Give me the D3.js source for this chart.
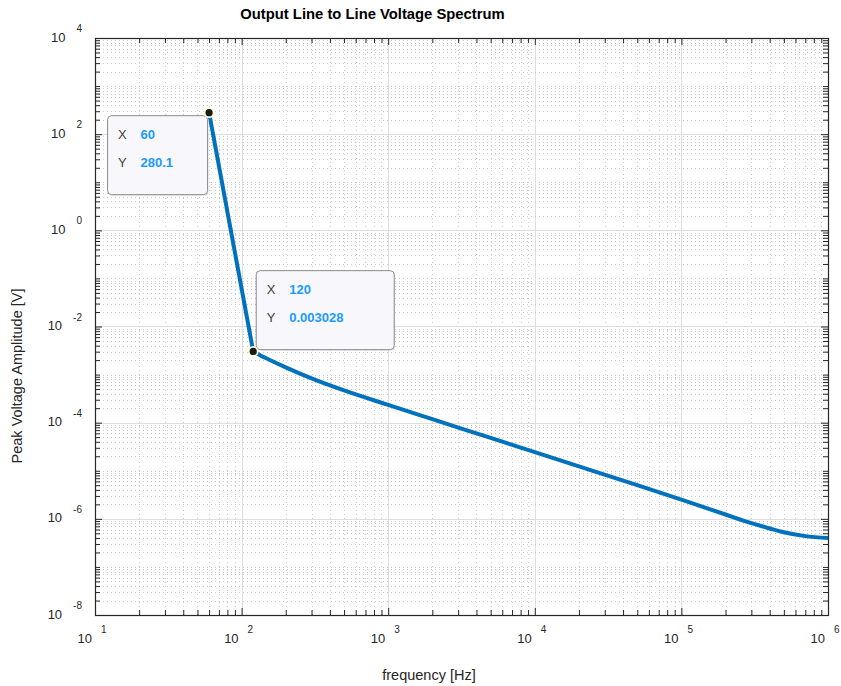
<!DOCTYPE html>
<html>
<head>
<meta charset="utf-8">
<script src="https://cdn.jsdelivr.net/npm/d3@7"></script>
<style>
  html, body { margin: 0; padding: 0; background: #fff; }
  svg { display: block; font-family: "Liberation Sans", Arial, Helvetica, sans-serif; }
</style>
</head>
<body>
<svg id="chart" width="841" height="686"></svg>
<script>
// Spectrum samples: frequency [Hz] and peak amplitude [V]
const freqHz = [60, 120, 145, 200, 300, 500, 1000, 2000, 5000, 10000, 20000, 50000, 100000, 200000, 300000, 400000, 500000, 700000, 1000000];
const amplitudeV = [280.1, 0.003028, 0.002239, 0.001413, 0.000832, 0.000468, 0.000234, 0.0001183, 0.0000481, 0.0000243, 0.0000123, 0.00000501, 0.00000251, 0.00000123, 0.000000813, 0.000000631, 0.000000525, 0.000000437, 0.000000398];

// Axis decades and labelled exponents
const xDomain = [1e1, 1e6];
const yDomain = [1e-8, 1e4];
const xTickExp = [1, 2, 3, 4, 5, 6];
const yTickExp = [4, 2, 0, -2, -4, -6, -8];

// Data tips (indices into the sample arrays)
const tipIndex = [0, 1];
const tipXLabel = ["60", "120"];
const tipYLabel = ["280.1", "0.003028"];

const titleText = "Output Line to Line Voltage Spectrum";
const xLabelText = "frequency [Hz]";
const yLabelText = "Peak Voltage Amplitude [V]";

const L = 95, R = 828, T = 38, B = 615;
const svg = d3.select("#chart");

const x = d3.scaleLog().domain(xDomain).range([L, R]);
const y = d3.scaleLog().domain(yDomain).range([B, T]);

// minor positions 1..9 x 10^k within each domain
function minorValues(lo, hi) {
  const out = [];
  for (let k = Math.round(Math.log10(lo)); k < Math.round(Math.log10(hi)); k++) {
    for (let m = 1; m <= 9; m++) out.push(m * Math.pow(10, k));
  }
  out.push(hi);
  return out;
}
const xMajor = xTickExp.map(e => Math.pow(10, e));
const yMajor = yTickExp.map(e => Math.pow(10, e));
const xMinor = minorValues(xDomain[0], xDomain[1]).filter(v => !xMajor.some(m => Math.abs(m - v) / m < 1e-9));
const yMinor = minorValues(yDomain[0], yDomain[1]).filter(v => !yMajor.some(m => Math.abs(m - v) / m < 1e-9));

// Grid
const grid = svg.append("g");
grid.selectAll(".gxm").data(xMinor).join("line")
  .attr("x1", d => Math.round(x(d)) + 0.5).attr("x2", d => Math.round(x(d)) + 0.5)
  .attr("y1", T).attr("y2", B)
  .attr("stroke", "#cacaca").attr("stroke-width", 1).attr("stroke-dasharray", "1,3");
grid.selectAll(".gym").data(yMinor).join("line")
  .attr("y1", d => Math.round(y(d)) + 0.5).attr("y2", d => Math.round(y(d)) + 0.5)
  .attr("x1", L).attr("x2", R)
  .attr("stroke", "#cacaca").attr("stroke-width", 1).attr("stroke-dasharray", "1,3");
grid.selectAll(".gxM").data(xMajor).join("line")
  .attr("x1", d => Math.round(x(d)) + 0.5).attr("x2", d => Math.round(x(d)) + 0.5)
  .attr("y1", T).attr("y2", B)
  .attr("stroke", "#dedede").attr("stroke-width", 1);
grid.selectAll(".gyM").data(yMajor).join("line")
  .attr("y1", d => Math.round(y(d)) + 0.5).attr("y2", d => Math.round(y(d)) + 0.5)
  .attr("x1", L).attr("x2", R)
  .attr("stroke", "#dedede").attr("stroke-width", 1);

// Axes: inward ticks on all four sides
function styleAxis(g) {
  g.selectAll("text").remove();
  g.select(".domain").remove();
  g.selectAll("line").attr("stroke", "#262626");
}
svg.append("g").attr("transform", "translate(0," + B + ")").call(d3.axisBottom(x).tickValues(xMajor).tickSize(-7).tickFormat("")).call(styleAxis);
svg.append("g").attr("transform", "translate(0," + B + ")").call(d3.axisBottom(x).tickValues(xMinor).tickSize(-5).tickFormat("")).call(styleAxis);
svg.append("g").attr("transform", "translate(0," + T + ")").call(d3.axisTop(x).tickValues(xMajor).tickSize(-7).tickFormat("")).call(styleAxis);
svg.append("g").attr("transform", "translate(0," + T + ")").call(d3.axisTop(x).tickValues(xMinor).tickSize(-5).tickFormat("")).call(styleAxis);
svg.append("g").attr("transform", "translate(" + L + ",0)").call(d3.axisLeft(y).tickValues(yMajor).tickSize(-7).tickFormat("")).call(styleAxis);
svg.append("g").attr("transform", "translate(" + L + ",0)").call(d3.axisLeft(y).tickValues(yMinor).tickSize(-5).tickFormat("")).call(styleAxis);
svg.append("g").attr("transform", "translate(" + R + ",0)").call(d3.axisRight(y).tickValues(yMajor).tickSize(-7).tickFormat("")).call(styleAxis);
svg.append("g").attr("transform", "translate(" + R + ",0)").call(d3.axisRight(y).tickValues(yMinor).tickSize(-5).tickFormat("")).call(styleAxis);
svg.append("rect").attr("x", L + 0.5).attr("y", T + 0.5).attr("width", R - L).attr("height", B - T)
  .attr("fill", "none").attr("stroke", "#262626").attr("stroke-width", 1.2);

// Tick labels: 10 with raised exponent
const xl = svg.append("g").attr("fill", "#262626");
xTickExp.forEach(e => {
  const px = x(Math.pow(10, e));
  xl.append("text").attr("x", px - 3).attr("y", 643).attr("text-anchor", "end").attr("font-size", 13).text("10");
  xl.append("text").attr("x", px + 6).attr("y", 633).attr("text-anchor", "start").attr("font-size", 10).text(e);
});
const yl = svg.append("g").attr("fill", "#262626");
yTickExp.forEach(e => {
  const py = y(Math.pow(10, e));
  const t = yl.append("text").attr("x", 82).attr("y", py + 3.5).attr("text-anchor", "end").attr("font-size", 13);
  t.append("tspan").text("10");
  t.append("tspan").attr("dx", 11).attr("dy", -9.5).attr("font-size", 10).text(e);
});

// Title and axis labels
svg.append("text").attr("x", 372.5).attr("y", 19).attr("text-anchor", "middle")
  .attr("font-size", 14.8).attr("font-weight", "bold").attr("fill", "#000").text(titleText);
svg.append("text").attr("x", 429).attr("y", 680).attr("text-anchor", "middle")
  .attr("font-size", 14.5).attr("fill", "#262626").text(xLabelText);
svg.append("text").attr("transform", "translate(22,376) rotate(-90)").attr("text-anchor", "middle")
  .attr("font-size", 14.5).attr("fill", "#262626").text(yLabelText);

// Spectrum curve: straight drop from the fundamental, smooth tail afterwards
const pts = freqHz.map((f, i) => [f, amplitudeV[i]]);
const plot = svg.append("g");
plot.append("path").datum(pts.slice(0, 2))
  .attr("d", d3.line().x(d => x(d[0])).y(d => y(d[1])).curve(d3.curveLinear))
  .attr("fill", "none").attr("stroke", "#0072BD").attr("stroke-width", 4).attr("stroke-linecap", "butt");
plot.append("path").datum(pts.slice(1))
  .attr("d", d3.line().x(d => x(d[0])).y(d => y(d[1])).curve(d3.curveMonotoneX))
  .attr("fill", "none").attr("stroke", "#0072BD").attr("stroke-width", 4).attr("stroke-linejoin", "round");

// Data tips
const tipW = [100, 138], tipH = 79;
tipIndex.forEach((idx, k) => {
  const px = x(freqHz[idx]), py = y(amplitudeV[idx]);
  let bx, by;
  if (k === 0) { bx = px - 2 - tipW[k]; by = py + 2.5; }
  else { bx = px + 2.5; by = py - 2.3 - tipH; }
  const g = svg.append("g");
  g.append("rect").attr("x", bx + 1.5).attr("y", by + 1.5).attr("width", tipW[k]).attr("height", tipH)
    .attr("rx", 4).attr("fill", "#d8d8d8").attr("opacity", 0.6);
  g.append("rect").attr("x", bx + 0.5).attr("y", by + 0.5).attr("width", tipW[k]).attr("height", tipH)
    .attr("rx", 4).attr("fill", "#f8f8fc").attr("stroke", "#8a8a8a").attr("stroke-width", 1);
  g.append("text").attr("x", bx + 11).attr("y", by + 23.5).attr("font-size", 13).attr("fill", "#404040").text("X");
  g.append("text").attr("x", bx + 33.5).attr("y", by + 23.5).attr("font-size", 13).attr("font-weight", "bold").attr("fill", "#1a9bff").text(tipXLabel[k]);
  g.append("text").attr("x", bx + 11).attr("y", by + 52).attr("font-size", 13).attr("fill", "#404040").text("Y");
  g.append("text").attr("x", bx + 33.5).attr("y", by + 52).attr("font-size", 13).attr("font-weight", "bold").attr("fill", "#1a9bff").text(tipYLabel[k]);
  svg.append("circle").attr("cx", px).attr("cy", py).attr("r", 4.5)
    .attr("fill", "#1a1a1a").attr("stroke", "#fffbd0").attr("stroke-width", 1.8);
});
</script>
</body>
</html>
